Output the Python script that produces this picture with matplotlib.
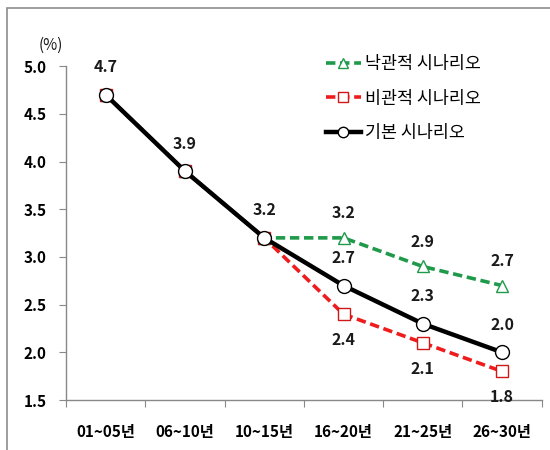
import matplotlib.pyplot as plt
from matplotlib.patches import Rectangle

plt.rcParams['font.family'] = ['Noto Sans CJK KR', 'DejaVu Sans']

periods = ['01~05년', '06~10년', '10~15년', '16~20년', '21~25년', '26~30년']
base = [4.7, 3.9, 3.2, 2.7, 2.3, 2.0]
optimistic = [4.7, 3.9, 3.2, 3.2, 2.9, 2.7]
pessimistic = [4.7, 3.9, 3.2, 2.4, 2.1, 1.8]

fig = plt.figure(figsize=(5.5, 4.5), dpi=100)
fig.patches.append(Rectangle((7 / 550, -0.1), 1.2, (450 - 8) / 450 + 0.1,
                             transform=fig.transFigure, fill=False,
                             edgecolor='#8c8c8c', linewidth=1.2))
ax = fig.add_axes([0.12, 0.111, 0.865, 0.742])

x = [i + 0.5 for i in range(len(periods))]

ax.plot(x, optimistic, color='#1e9a4a', linestyle=(0, (2.6, 1.3)), linewidth=2.6,
        marker='^', markersize=9, markerfacecolor='white', markeredgecolor='#1e9a4a',
        markeredgewidth=1.0, label='낙관적 시나리오', zorder=2)
ax.plot(x, pessimistic, color='#ee1c1c', linestyle=(0, (2.6, 1.3)), linewidth=2.6,
        marker='s', markersize=9, markerfacecolor='white', markeredgecolor='#d01818',
        markeredgewidth=1.0, label='비관적 시나리오', zorder=3)
ax.plot(x, base, color='black', linewidth=3.2,
        marker='o', markersize=10, markerfacecolor='white', markeredgecolor='black',
        markeredgewidth=1.0, label='기본 시나리오', zorder=4)

lab = dict(ha='center', fontsize=11.5, fontweight='bold', color='#1a1a1a')
for xi, v in zip(x, base):
    ax.annotate(f'{v:.1f}', (xi, v), xytext=(0, 14), textcoords='offset points', va='bottom', **lab)
for xi, v in list(zip(x, optimistic))[3:]:
    ax.annotate(f'{v:.1f}', (xi, v), xytext=(0, 12), textcoords='offset points', va='bottom', **lab)
for xi, v in list(zip(x, pessimistic))[3:]:
    ax.annotate(f'{v:.1f}', (xi, v), xytext=(0, -13), textcoords='offset points', va='top', **lab)

ax.set_xlim(0, 6)
ax.set_ylim(1.5, 5.0)
ax.set_yticks([1.5, 2.0, 2.5, 3.0, 3.5, 4.0, 4.5, 5.0])
ax.set_yticklabels([f'{t:.1f}' for t in ax.get_yticks()], fontweight='bold', fontsize=11)
ax.set_xticks(range(0, 7))
ax.set_xticklabels([])
ax.set_xticks(x, minor=True)
ax.set_xticklabels(periods, minor=True, fontweight='bold', fontsize=11)
ax.tick_params(axis='x', which='minor', length=0, pad=17)
ax.tick_params(axis='x', which='major', length=5, color='#888888', direction='out')
ax.tick_params(axis='y', length=5, color='#888888', direction='out', pad=9)

for s in ['top', 'right']:
    ax.spines[s].set_visible(False)
for s in ['left', 'bottom']:
    ax.spines[s].set_color('#888888')
    ax.spines[s].set_linewidth(1.0)

ax.text(-0.04, 5.22, '(%)', transform=ax.transData, ha='right', va='center',
        fontsize=11, color='#1a1a1a')

ax.legend(loc='upper right', bbox_to_anchor=(0.905, 1.08), frameon=False, fontsize=12.5,
          handlelength=2.0, labelspacing=0.95, handletextpad=0.25, markerscale=0.75)

fig.savefig('out.png', dpi=100)
